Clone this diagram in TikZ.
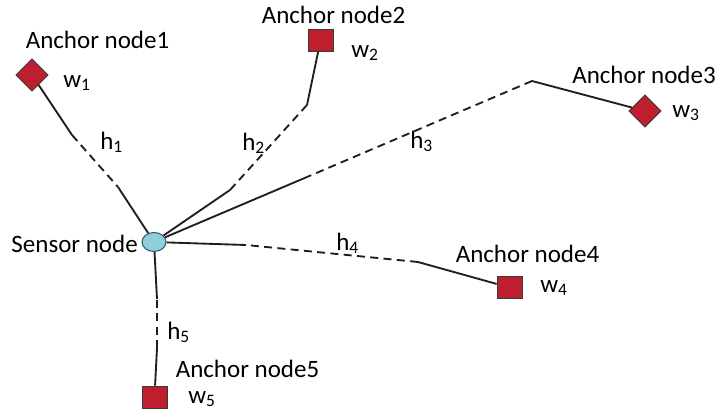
\documentclass[tikz,border=0pt]{standalone}
\usepackage{fontspec}
\setmainfont{Carlito}
\usetikzlibrary{shapes.geometric}
\definecolor{anchorred}{HTML}{BE1E2D}
\definecolor{sensorblue}{HTML}{92CDDC}
\definecolor{edgegray}{HTML}{3A3A3A}
\definecolor{sensoredge}{HTML}{2F5C6E}

\begin{document}
\begin{tikzpicture}[x=0.75pt, y=-0.75pt,
 anchorsq/.style={draw=edgegray, fill=anchorred, line width=0.6pt, minimum width=18.75pt, minimum height=16.5pt, inner sep=0},
 anchordm/.style={anchorsq, minimum width=17pt, minimum height=17pt, rotate=45},
 sensor/.style={ellipse, draw=sensoredge, fill=sensorblue, line width=0.8pt, minimum width=18pt, minimum height=14.25pt, inner sep=0},
 link/.style={line width=1.4pt, black!88},
 lbl/.style={font=\fontsize{18.75}{22}\selectfont, inner sep=0, anchor=base}]
\useasboundingbox (0,0) rectangle (719,411);
% anchors and sensor
\node[anchordm] (a1) at (32,75) {};
\node[anchorsq] (a2) at (320.5,40.5) {};
\node[anchordm] (a3) at (645,111) {};
\node[anchorsq] (a4) at (509.5,287.5) {};
\node[anchorsq] (a5) at (154.5,397) {};
\node[sensor] (s) at (154,242) {};
% break points of the links
\coordinate (p1) at (72,135);   \coordinate (q1) at (118,187);
\coordinate (p2) at (307,105);  \coordinate (q2) at (230,190);
\coordinate (p3) at (532,81);   \coordinate (q3) at (307,177);
\coordinate (p4) at (418,262);  \coordinate (q4) at (246,245);
\coordinate (p5) at (157,348);  \coordinate (q5) at (157,299);
\foreach \i in {1,...,5} {
 \draw[link] (a\i) -- (p\i);
 \draw[link, dash pattern=on 6pt off 4pt] (p\i) -- (q\i);
 \draw[link] (q\i) -- (s);
}
% texts
\node[lbl] (t1) at (97.5,48) {Anchor node1};
\node[lbl] (t2) at (333.5,23) {Anchor node2};
\node[lbl] (t3) at (644,83) {Anchor node3};
\node[lbl] (t4) at (527.5,262) {Anchor node4};
\node[lbl] (t5) at (247.5,377) {Anchor node5};
\node[lbl, anchor=base east] (ts) at (138,252) {Sensor node};
\node[lbl, anchor=base west] (w1) at (63,87) {w\textsubscript{1}};
\node[lbl, anchor=base west] (w2) at (351,57) {w\textsubscript{2}};
\node[lbl, anchor=base west] (w3) at (672,117) {w\textsubscript{3}};
\node[lbl, anchor=base west] (w4) at (540,292) {w\textsubscript{4}};
\node[lbl, anchor=base west] (w5) at (188,403) {w\textsubscript{5}};
\node[lbl, anchor=base west] (h1) at (100,149) {h\textsubscript{1}};
\node[lbl, anchor=base west] (h2) at (242,150) {h\textsubscript{2}};
\node[lbl, anchor=base west] (h3) at (410,148) {h\textsubscript{3}};
\node[lbl, anchor=base west] (h4) at (336,250) {h\textsubscript{4}};
\node[lbl, anchor=base west] (h5) at (167,339) {h\textsubscript{5}};
\end{tikzpicture}
\end{document}
